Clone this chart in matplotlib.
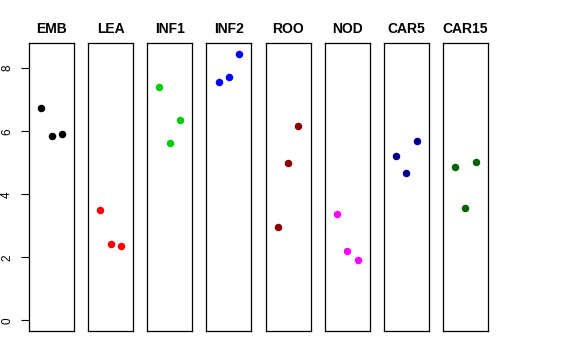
import numpy as np
import matplotlib.pyplot as plt

plt.rcParams['font.family'] = ['Liberation Sans', 'DejaVu Sans']

# one panel per tissue, three replicate values each
tissues = ["EMB", "LEA", "INF1", "INF2", "ROO", "NOD", "CAR5", "CAR15"]
colors = ["black", "red", "#00CD00", "blue", "#8B0000", "magenta", "#00008B", "#006400"]
reps = [1, 2, 3]

emb = [6.74, 5.86, 5.92]
lea = [3.50, 2.41, 2.35]
inf1 = [7.39, 5.62, 6.36]
inf2 = [7.56, 7.71, 8.46]
roo = [2.95, 4.99, 6.16]
nod = [3.37, 2.20, 1.90]
car5 = [5.20, 4.67, 5.69]
car15 = [4.85, 3.55, 5.02]
values = [emb, lea, inf1, inf2, roo, nod, car5, car15]

ymax = max(max(v) for v in values)
ypad = ymax * 0.04

fig, axes = plt.subplots(1, 8, figsize=(5.76, 3.6), dpi=100, sharey=True)
fig.subplots_adjust(left=29/576, right=488/576, top=1-43/360, bottom=1-331/360, wspace=0.314)

for i, ax in enumerate(axes):
    ax.plot(reps, values[i], 'o', color=colors[i], markersize=4.4, mec=colors[i])
    ax.set_xlim(-0.16, 4.16)
    ax.set_ylim(-ypad, ymax + ypad)
    ax.set_title(tissues[i], fontsize=10, fontweight='bold', pad=7)
    ax.set_xticks([])
    for s in ax.spines.values():
        s.set_linewidth(0.9)
        s.set_color('black')
    if i == 0:
        ax.set_yticks([0, 2, 4, 6, 8])
        ax.tick_params(axis='y', length=5.5, width=0.8, labelsize=8.5, pad=6)
        for lab in ax.get_yticklabels():
            lab.set_rotation(90)
            lab.set_va('center')
    else:
        ax.tick_params(axis='y', left=False, labelleft=False)

fig.savefig("out.png", dpi=100)
